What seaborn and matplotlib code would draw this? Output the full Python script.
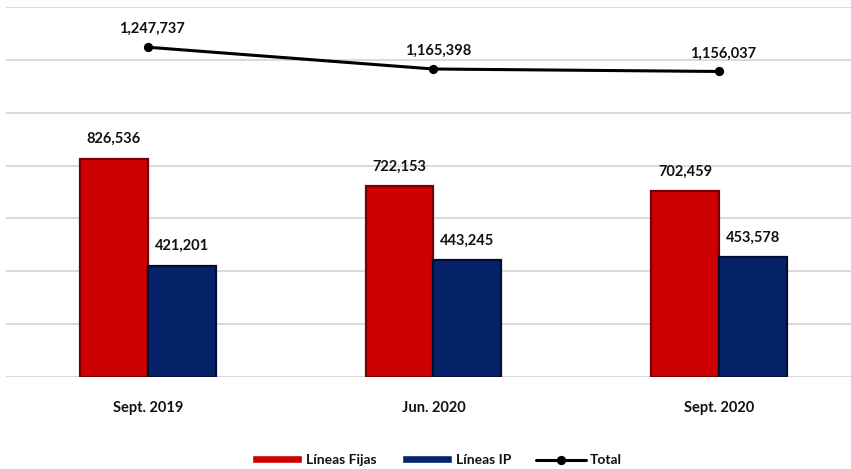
import seaborn as sns
import matplotlib.pyplot as plt
import pandas as pd

# data
periods = ["Sept. 2019", "Jun. 2020", "Sept. 2020"]
fijas = [826536, 722153, 702459]
ip = [421201, 443245, 453578]
total = [1247737, 1165398, 1156037]

series_names = ["Líneas Fijas", "Líneas IP"]
bar_colors = ["#CC0000", "#06236A"]
edge_colors = ["#7A0000", "#000F33"]

df = pd.DataFrame({
    "periodo": periods * 2,
    "serie": [series_names[0]] * 3 + [series_names[1]] * 3,
    "valor": fijas + ip,
})

sns.set_style("white")
plt.rcParams['font.family'] = ['Lato', 'DejaVu Sans']

fig = plt.figure(figsize=(8.51, 4.69), dpi=100)
ax = fig.add_axes([6 / 851, 92 / 469, 845 / 851, 370 / 469])

sns.barplot(data=df, x="periodo", y="valor", hue="serie", order=periods,
            hue_order=series_names, palette=bar_colors, width=0.476,
            saturation=1, ax=ax, zorder=3)

# darker rims to hint at the bevel look
for i, cont in enumerate(ax.containers):
    for bar in cont:
        bar.set_edgecolor(edge_colors[i])
        bar.set_linewidth(1.6)
    ax.bar_label(cont, labels=[f"{v:,.0f}" for v in cont.datavalues],
                 padding=9, fontsize=10.5, fontweight="bold", color="#111111")

sns.pointplot(x=periods, y=total, color="black", markers="o", markersize=5,
              linewidth=2.2, label="Total", ax=ax, zorder=4)

for i, v in enumerate(total):
    ax.annotate(f"{v:,.0f}", (i, v), xytext=(3, 8), textcoords="offset points",
                ha="center", va="bottom", fontsize=10.5, fontweight="bold",
                color="#111111")

ax.set_ylim(0, 1400000)
ax.set_xlim(-0.497, 2.462)
ax.set_yticks(range(0, 1400001, 200000))
ax.yaxis.grid(True, color="#D9D9D9", linewidth=1.4, zorder=0)
ax.set_axisbelow(True)
ax.set_yticklabels([])
ax.tick_params(axis="y", length=0)
ax.tick_params(axis="x", length=0, pad=17)
for lbl in ax.get_xticklabels():
    lbl.set_fontweight("bold")
    lbl.set_fontsize(10.5)
    lbl.set_color("#111111")
ax.set_xlabel("")
ax.set_ylabel("")
sns.despine(ax=ax, left=True, bottom=True, top=True, right=True)

handles, labels = ax.get_legend_handles_labels()
leg = ax.legend(handles, labels, loc="upper center", bbox_to_anchor=(0.51, -0.175),
                ncol=3, frameon=False, handlelength=3.6, handleheight=0.5,
                columnspacing=1.8, handletextpad=0.3,
                prop={"weight": "bold", "size": 10})
for t in leg.get_texts():
    t.set_color("#111111")

fig.savefig("out.png", dpi=100)
